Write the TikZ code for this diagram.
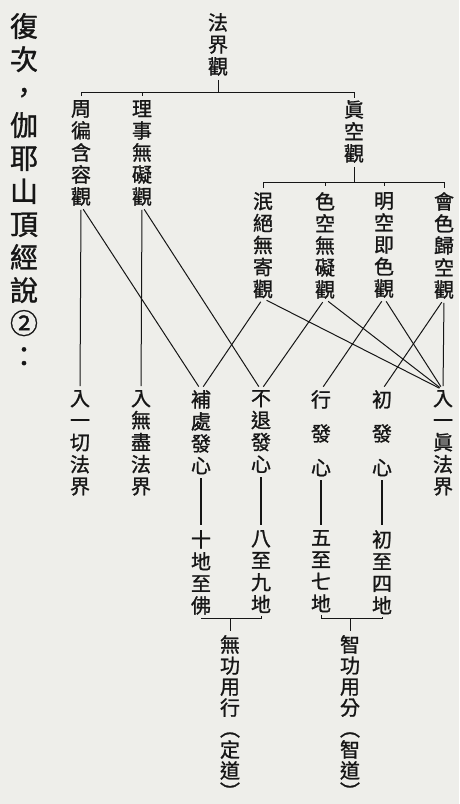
\documentclass[tikz,border=0pt]{standalone}
\usepackage{fontspec}
\setmainfont{Noto Sans CJK TC}[FakeBold=1.2]

\definecolor{paper}{RGB}{238,238,234}
\definecolor{ink}{RGB}{22,22,22}

\tikzset{
  vcol/.style={anchor=north, inner sep=0pt, align=center, text=ink, font=\fontsize{20}{22}\selectfont},
  vwide/.style={vcol, font=\fontsize{20}{34}\selectfont},
  vlong/.style={vcol, font=\fontsize{20}{21}\selectfont},
  vtitle/.style={vcol, font=\fontsize{28}{33}\selectfont},
  tick/.style={draw=ink, line width=1pt},
  link/.style={tick, shorten <=4pt, shorten >=4pt},
  bar/.style={draw=ink, line width=2.6pt},
}

\begin{document}
\begin{tikzpicture}[x=1pt,y=-1pt]

                  \fill[paper] (0,0) rectangle (459,804);
                  \useasboundingbox (0,0) rectangle (459,804);

                  \node[vtitle] (title) at (24,13) {復\\次\\，\\伽\\耶\\山\\頂\\經\\說\\②\\：};

                  % three views
                  \node[vcol] (fa) at (218,13) {法\\界\\觀};
                  \node[vcol] (zhou) at (81,100) {周\\徧\\含\\容\\觀};
                  \node[vcol] (li) at (142,100) {理\\事\\無\\礙\\觀};
                  \node[vcol] (zhen) at (354,100) {眞\\空\\觀};
                  \node[vcol] (min) at (263,192) {泯\\絕\\無\\寄\\觀};
                  \node[vcol] (se) at (325,192) {色\\空\\無\\礙\\觀};
                  \node[vcol] (ming) at (384,192) {明\\空\\即\\色\\觀};
                  \node[vcol] (hui) at (444,192) {會\\色\\歸\\空\\觀};

                  \node[vcol] (ruqie) at (80,390) {入\\一\\切\\法\\界};
                  \node[vcol] (rujin) at (141,390) {入\\無\\盡\\法\\界};
                  \node[vcol] (buchu) at (201,390) {補\\處\\發\\心};
                  \node[vcol] (butui) at (261,390) {不\\退\\發\\心};
                  \node[vwide] (xing) at (321,390) {行\\發\\心};
                  \node[vwide] (chu) at (382,390) {初\\發\\心};
                  \node[vcol] (ruzhen) at (443,390) {入\\一\\眞\\法\\界};

                  % stages
                  \node[vcol] (shidi) at (201,530) {十\\地\\至\\佛};
                  \node[vcol] (bajiu) at (261,530) {八\\至\\九\\地};
                  \node[vcol] (wuqi) at (321,530) {五\\至\\七\\地};
                  \node[vcol] (chusi) at (382,530) {初\\至\\四\\地};
                  \node[vlong] (ding) at (230,635) {無\\功\\用\\行\\︵\\定\\道\\︶};
                  \node[vlong] (zhi) at (350,635) {智\\功\\用\\分\\︵\\智\\道\\︶};

                  \coordinate (barA) at (0,92);
                  \coordinate (barB) at (0,182);
                  \coordinate (barC) at (0,618);

                  \draw[tick] ([yshift=-4pt]fa.south) -- (fa.south |- barA);
                  \draw[tick] ([yshift=4pt]zhou.north) -- (zhou.north |- barA) -- (zhen.north |- barA) -- ([yshift=2pt]zhen.north);
                  \draw[tick] (li.north |- barA) -- ++(0,4);

                  \draw[tick] ([yshift=-4pt]zhen.south) -- (zhen.south |- barB);
                  \draw[tick] ([yshift=4pt]min.north) -- (min.north |- barB) -- (hui.north |- barB) -- ([yshift=4pt]hui.north);
                  \draw[tick] (se.north |- barB) -- ++(0,4);
                  \draw[tick] (ming.north |- barB) -- ++(0,4);

                  \draw[link] (zhou.south) -- (ruqie.north);
                  \draw[link] (zhou.south) -- (buchu.north);
                  \draw[link] (li.south) -- (rujin.north);
                  \draw[link] (li.south) -- (butui.north);
                  \draw[link] (min.south) -- (buchu.north);
                  \draw[link] (min.south) -- (ruzhen.north);
                  \draw[link] (se.south) -- (butui.north);
                  \draw[link] (se.south) -- (ruzhen.north);
                  \draw[link] (ming.south) -- (xing.north);
                  \draw[link] (ming.south) -- (ruzhen.north);
                  \draw[link] (hui.south) -- (chu.north);
                  \draw[link] (hui.south) -- (ruzhen.north);

                  \draw[bar] ([yshift=-4pt]buchu.south) -- ([yshift=5pt]shidi.north);
                  \draw[bar] ([yshift=-4pt]butui.south) -- ([yshift=5pt]bajiu.north);
                  \draw[bar] ([yshift=-4pt]xing.south) -- ([yshift=5pt]wuqi.north);
                  \draw[bar] ([yshift=-4pt]chu.south) -- ([yshift=5pt]chusi.north);

                  \draw[tick] ([yshift=-3pt]shidi.south) -- (shidi.south |- barC) -- (bajiu.south |- barC) -- ([yshift=-3pt]bajiu.south);
                  \draw[tick] (ding.north |- barC) -- ([yshift=4pt]ding.north);
                  \draw[tick] ([yshift=-3pt]wuqi.south) -- (wuqi.south |- barC) -- (chusi.south |- barC) -- ([yshift=-3pt]chusi.south);
                  \draw[tick] (zhi.north |- barC) -- ([yshift=4pt]zhi.north);

              \end{tikzpicture}
\end{document}
